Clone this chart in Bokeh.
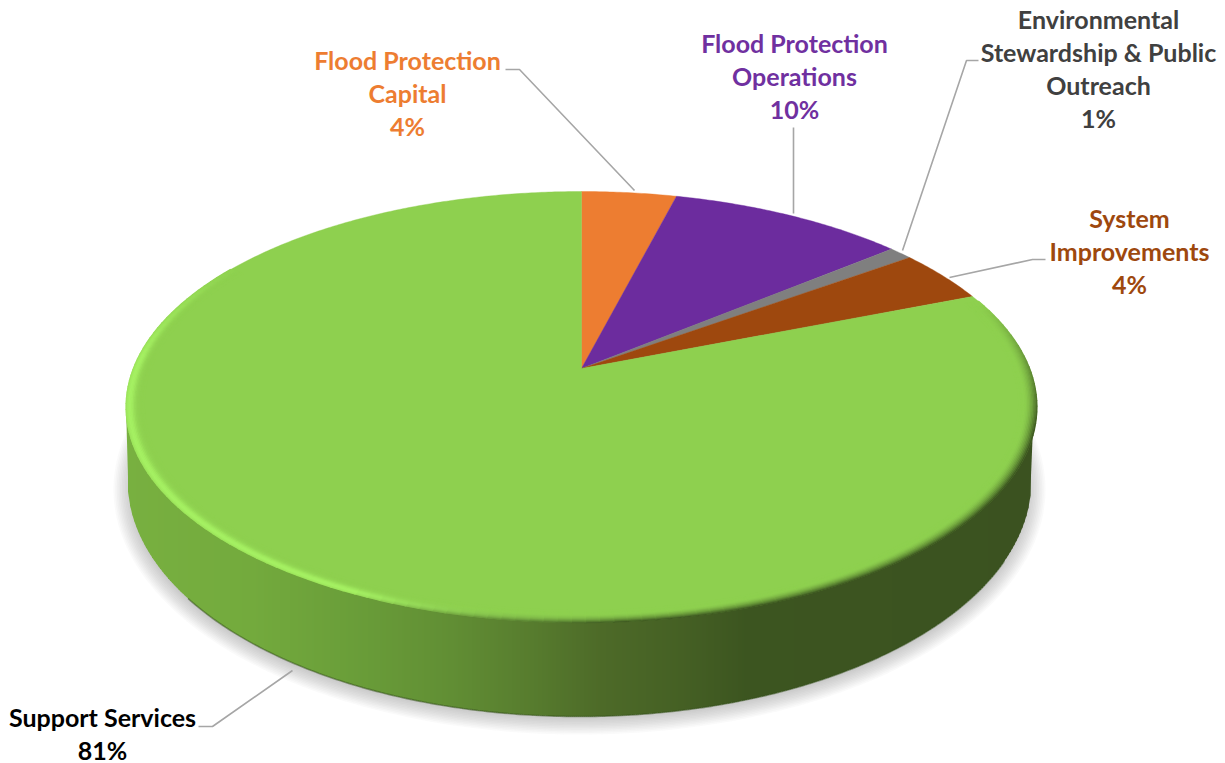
import numpy as np
from bokeh.core.properties import value
from bokeh.embed import file_html
from bokeh.models import Range1d
from bokeh.plotting import figure
from bokeh.resources import INLINE

# Budget shares, clockwise from twelve o'clock
categories = ["Flood Protection Capital", "Flood Protection Operations",
              "Environmental Stewardship & Public Outreach",
              "System Improvements", "Support Services"]
shares = [4, 10, 1, 4, 81]
slice_colors = ["#ED7D31", "#6C2C9E", "#7F7F7F", "#9E480E", "#8ED04F"]

# Label text, one list of wrapped lines per category
label_lines = [["Flood Protection", "Capital"],
               ["Flood Protection", "Operations"],
               ["Environmental", "Stewardship & Public", "Outreach"],
               ["System", "Improvements"],
               ["Support Services"]]
label_colors = ["#ED7D31", "#7030A0", "#404040", "#9E480E", "#000000"]
label_centers = [407, 794, 1098, 1129, 102]
label_first_y = [59, 42, 18, 217, 716]
leader_paths = [[(505, 69), (519, 69), (634, 190)],
                [(793, 213), (793, 127)],
                [(902, 250), (966, 60), (978, 60)],
                [(949, 277), (1032, 259), (1045, 259)],
                [(292, 670), (212, 726), (198, 726)]]

# Perspective disc: hub position, reach towards far and near rim, half width
HUB_X, HUB_Y = 581.0, 368.0
FAR, NEAR, RIM_RX = 177.0, 254.0, 455.5
K = (NEAR - FAR) / (NEAR + FAR)
DEPTH_SCALE = FAR * (1 + K)
WIDTH_SCALE = RIM_RX * np.sqrt(1 - K ** 2)
RIM_CY = HUB_Y + (NEAR - FAR) / 2
RIM_RY = (NEAR + FAR) / 2

# Lower edge of the extruded wall
BASE_CX, BASE_CY, BASE_RX, BASE_RY = 579.0, 480.0, 452.0, 236.0


def project(theta, radius=1.0):
    """Map clockwise angle (radians from the top) on the disc to the page."""
    u, v = radius * np.sin(theta), radius * np.cos(theta)
    w = 1 + K * v
    return HUB_X + WIDTH_SCALE * u / w, HUB_Y - DEPTH_SCALE * v / w


def hex_rgb(color):
    return np.array([int(color[i:i + 2], 16) for i in (1, 3, 5)], dtype=float)


def mix(a, b, t):
    c = (1 - t) * np.asarray(a) + t * np.asarray(b)
    return "#%02x%02x%02x" % tuple(int(round(x)) for x in c)


p = figure(width=1225, height=763, output_backend="svg", toolbar_location=None,
           x_range=Range1d(0, 1225), y_range=Range1d(763, 0),
           min_border=0, outline_line_color=None, background_fill_color="white",
           border_fill_color="white", x_axis_location=None, y_axis_location=None)
p.grid.visible = False

# Soft drop shadow below the disc
t = np.linspace(0, 2 * np.pi, 240)
for grow in np.linspace(19, 1, 12):
    p.patch(BASE_CX + (BASE_RX - 5 + grow) * np.cos(t),
            BASE_CY + 9 + (BASE_RY - 9 + grow * 0.95) * np.sin(t),
            fill_color="#6e6e6e", fill_alpha=0.035, line_color=None)

# Wall shaded with narrow vertical strips
wall_stops_x = [125, 250, 350, 450, 530, 600, 680, 745, 1036]
wall_stops_c = ["#78B040", "#73AA3D", "#6A9E39", "#618E34", "#577C2E",
                "#4D6A28", "#456024", "#3C5520", "#3B5220"]
stop_rgb = np.array([hex_rgb(c) for c in wall_stops_c])
xs_wall, ys_wall, wall_fill = [], [], []
for x0 in np.arange(HUB_X - RIM_RX, HUB_X + RIM_RX, 2.0):
    x_pair = np.array([x0, min(x0 + 2.6, HUB_X + RIM_RX)])
    top = RIM_CY + RIM_RY * np.sqrt(np.clip(1 - ((x_pair - HUB_X) / RIM_RX) ** 2, 0, 1))
    inside = np.abs(x_pair - BASE_CX) < BASE_RX
    bot = np.where(inside,
                   BASE_CY + BASE_RY * np.sqrt(np.clip(1 - ((x_pair - BASE_CX) / BASE_RX) ** 2, 0, 1)),
                   top)
    bot = np.maximum(bot, top)
    lift = np.minimum(3.0, top - RIM_CY)
    xs_wall.append([x_pair[0], x_pair[1], x_pair[1], x_pair[0]])
    ys_wall.append([top[0] - lift[0], top[1] - lift[1], bot[1], bot[0]])
    rgb = [np.interp(x0, wall_stops_x, stop_rgb[:, i]) for i in range(3)]
    wall_fill.append(mix(rgb, rgb, 0))
p.patches(xs_wall, ys_wall, fill_color=wall_fill, line_color=None)

# Dark seam along the lower edge of the wall
t = np.radians(np.linspace(20, 150, 200))
p.line(BASE_CX + BASE_RX * np.cos(t), BASE_CY + BASE_RY * np.sin(t),
       line_color="#33501a", line_alpha=0.5, line_width=1.6)

# Slices of the top face, built from the shares
edges = np.radians(np.cumsum([0] + shares) * 3.6)
xs_face, ys_face = [], []
for a0, a1 in zip(edges[:-1], edges[1:]):
    arc = np.linspace(a0, a1, max(8, int(np.degrees(a1 - a0) * 2)))
    ax, ay = project(arc)
    xs_face.append([HUB_X] + ax.tolist())
    ys_face.append([HUB_Y] + ay.tolist())
p.patches(xs_face, ys_face, fill_color=slice_colors, line_color=slice_colors,
          line_width=0.4)

# Bevel on the rim: bright on the lower left, shaded on the lower right
face = hex_rgb(slice_colors[4])
glow = hex_rgb("#A6F264")
shade = hex_rgb("#3F5A22")
angle_deg = np.arange(70, 300, 1.5)
band_radii = np.linspace(0.999, 0.962, 13)
xs_bevel, ys_bevel, bevel_colors = [], [], []
for b, r in enumerate(band_radii):
    f = b / (len(band_radii) - 1)
    glow_w = np.exp(-((f - 0.2) / 0.3) ** 2) * 0.95
    shade_w = max(0.0, 1 - f / 0.75) ** 1.7
    for d in angle_deg:
        arc = np.radians([d, d + 1.7])
        bx, by = project(arc, r)
        g = np.clip((d - 172) / 30, 0, 1) * np.clip((302 - d) / 30, 0, 1)
        s = np.clip((d - 70) / 35, 0, 1) * np.clip((205 - d) / 30, 0, 1)
        c = (1 - glow_w * g) * face + glow_w * g * glow
        c = (1 - shade_w * s) * c + shade_w * s * shade
        xs_bevel.append(bx.tolist())
        ys_bevel.append(by.tolist())
        bevel_colors.append(mix(c, c, 0))
p.multi_line(xs_bevel, ys_bevel, line_color=bevel_colors, line_width=2.0)

# Leader lines from the slices to their labels
p.multi_line([[pt[0] for pt in path] for path in leader_paths],
             [[pt[1] for pt in path] for path in leader_paths],
             line_color="#A6A6A6", line_width=1.6)

# Wrapped category labels followed by the percentage
LINE_GAP = 33
for lines, share, color, cx, y0 in zip(label_lines, shares, label_colors,
                                       label_centers, label_first_y):
    rows = lines + [f"{share}%"]
    ys = [y0 + LINE_GAP * i for i in range(len(rows))]
    p.text([cx] * len(rows), ys, text=rows, text_color=color,
           text_font=value("Lato"), text_font_size="25px", text_font_style="bold",
           text_align="center", text_baseline="middle")

open("out.html", "w").write(file_html(p, INLINE))
